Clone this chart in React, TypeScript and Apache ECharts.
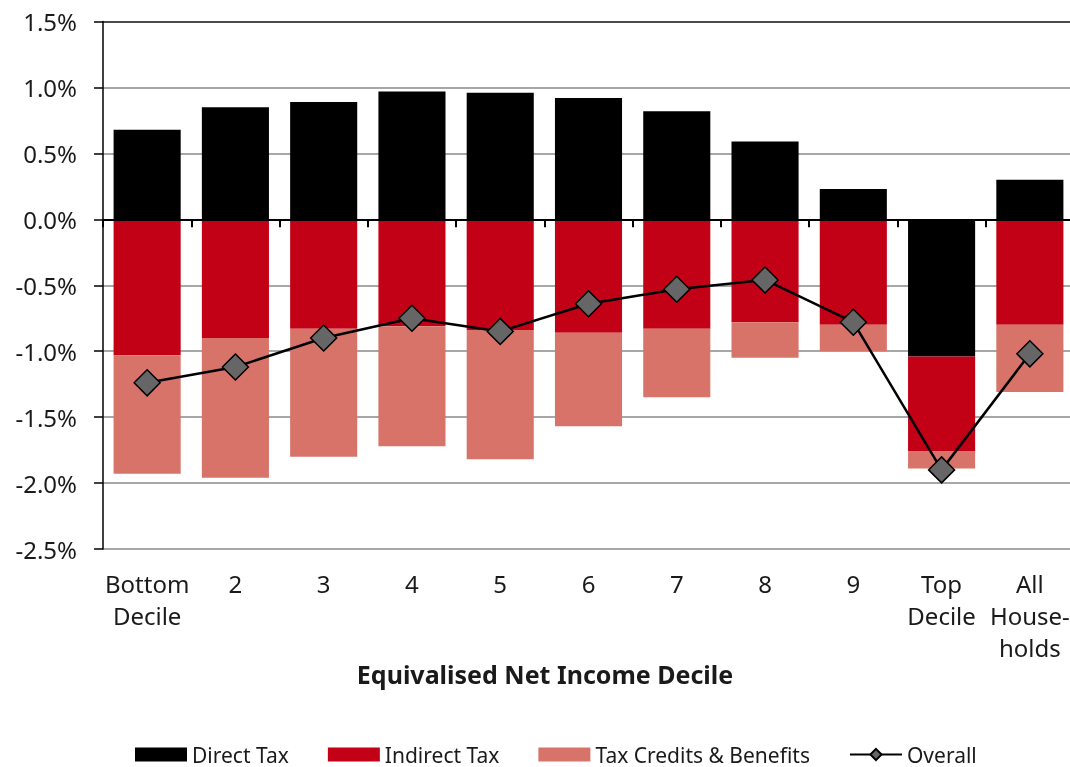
import React, { useEffect, useRef } from "react";
import * as echarts from "echarts";

const categories = [
  "Bottom\nDecile",
  "2",
  "3",
  "4",
  "5",
  "6",
  "7",
  "8",
  "9",
  "Top\nDecile",
  "All\nHouse-\nholds",
];
const directTax = [0.68, 0.85, 0.89, 0.97, 0.96, 0.92, 0.82, 0.59, 0.23, -1.04, 0.3];
const indirectTax = [-1.03, -0.9, -0.83, -0.81, -0.84, -0.86, -0.83, -0.78, -0.8, -0.72, -0.8];
const taxCredits = [-0.9, -1.06, -0.97, -0.91, -0.98, -0.71, -0.52, -0.27, -0.2, -0.13, -0.51];
const overall = [-1.24, -1.12, -0.9, -0.75, -0.85, -0.64, -0.53, -0.46, -0.78, -1.9, -1.02];
const axisTitle = "Equivalised Net Income Decile";

const FONT = "Noto Sans";
const TXT = "#1a1a1a";

export default function App() {
  const ref = useRef<HTMLDivElement>(null);
  useEffect(() => {
    const chart = echarts.init(ref.current!, null, { renderer: "svg" });
    const gridColors = ["#8a8a8a", "#8a8a8a", "#8a8a8a", "#8a8a8a", "#8a8a8a", "#8a8a8a", "#8a8a8a", "#8a8a8a", "#111111"];
    chart.setOption({
      animation: false,
      textStyle: { fontFamily: FONT, color: TXT },
      grid: { left: 103, right: 2, top: 21.5, bottom: 218, outerBoundsMode: "none" },
      graphic: [
        {
          type: "text",
          x: 545,
          y: 674,
          style: {
            text: axisTitle,
            fontFamily: FONT,
            fontSize: 25,
            fontWeight: "bold",
            fill: TXT,
            align: "center",
            verticalAlign: "middle",
          },
        },
      ],
      legend: {
        left: 135,
        top: 744,
        padding: 0,
        itemWidth: 52,
        itemHeight: 14,
        itemGap: 39,
        textStyle: { fontFamily: FONT, fontSize: 21, lineHeight: 18, color: TXT },
        data: [
          { name: "Direct Tax", icon: "rect" },
          { name: "Indirect Tax", icon: "rect" },
          { name: "Tax Credits & Benefits", icon: "rect" },
          { name: "Overall" },
        ],
      },
      xAxis: [
        {
          type: "category",
          data: categories,
          position: "bottom",
          axisLine: { show: false, onZero: false },
          axisTick: { show: false },
          axisLabel: {
            fontFamily: FONT,
            fontSize: 24,
            lineHeight: 32,
            color: TXT,
            margin: 18,
            interval: 0,
          },
        },
        {
          type: "category",
          data: categories,
          position: "bottom",
          axisLine: { show: true, onZero: true, onZeroAxisIndex: 0, lineStyle: { color: "#000", width: 2 } },
          axisTick: { show: true, length: 8, inside: false, lineStyle: { color: "#000", width: 2 } },
          axisLabel: { show: false },
          splitLine: { show: false },
          z: 10,
        },
      ],
      yAxis: {
        type: "value",
        min: -2.5,
        max: 1.5,
        interval: 0.5,
        axisLine: { show: true, lineStyle: { color: "#000", width: 1.5 } },
        axisTick: { show: true, length: 9, lineStyle: { color: "#000", width: 1.5 } },
        axisLabel: {
          fontFamily: FONT,
          fontSize: 24,
          color: TXT,
          margin: 26,
          formatter: (v: number) => v.toFixed(1) + "%",
        },
        splitLine: { show: true, lineStyle: { color: gridColors, width: 1.5 } },
      },
      series: [
        {
          name: "Direct Tax",
          type: "bar",
          stack: "total",
          barWidth: "76%",
          data: directTax,
          itemStyle: { color: "#000000" },
        },
        {
          name: "Indirect Tax",
          type: "bar",
          stack: "total",
          barWidth: "76%",
          data: indirectTax,
          itemStyle: { color: "#c20016" },
        },
        {
          name: "Tax Credits & Benefits",
          type: "bar",
          stack: "total",
          barWidth: "76%",
          data: taxCredits,
          itemStyle: { color: "#d8736a" },
        },
        {
          name: "Overall",
          type: "line",
          data: overall,
          z: 20,
          symbol: "diamond",
          symbolSize: 26,
          lineStyle: { color: "#000", width: 2.5 },
          itemStyle: { color: "#666666", borderColor: "#000", borderWidth: 1.5 },
        },
      ],
    });
    return () => chart.dispose();
  }, []);
  return (
    <div
      ref={ref}
      style={{ position: "fixed", left: 0, top: 0, width: 1076, height: 767 }}
    />
  );
}
